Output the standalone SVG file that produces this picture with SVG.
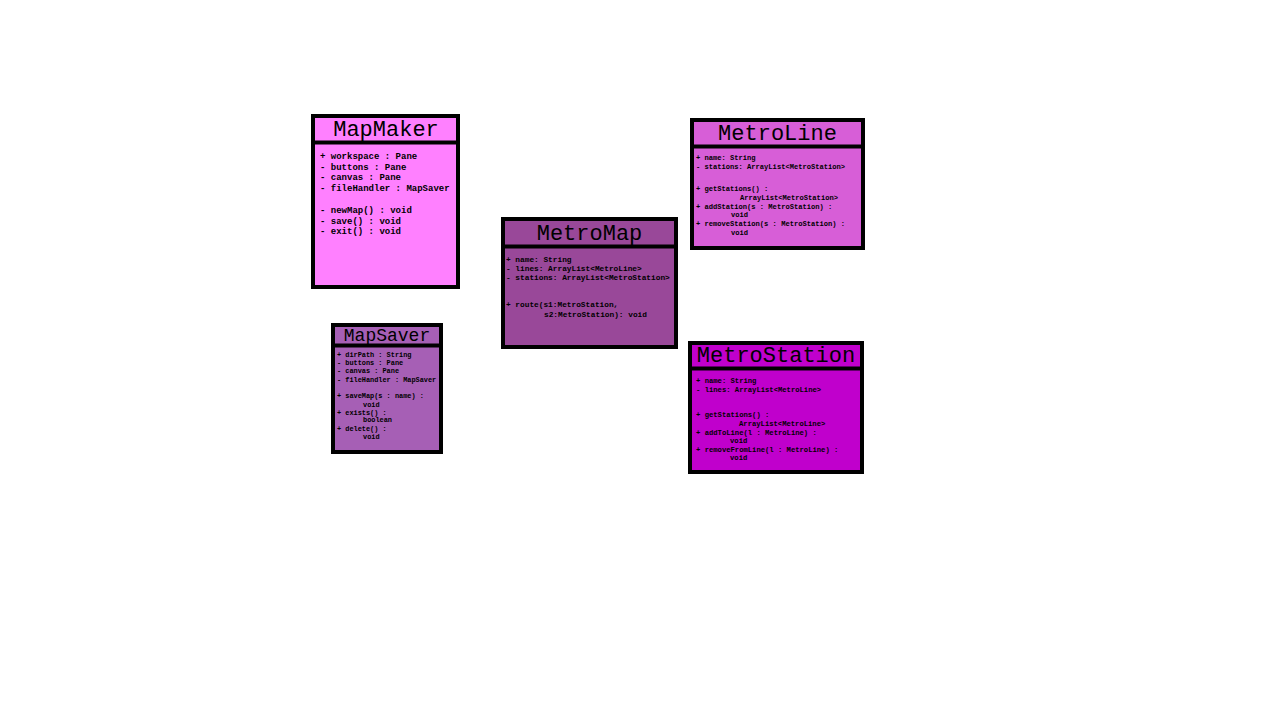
<svg xmlns="http://www.w3.org/2000/svg" width="1280" height="720" viewBox="0 0 1280 720">
<style>
.box{stroke:#000;stroke-width:4}
.sep{stroke:#000;stroke-width:4}
.hd{font-family:"Liberation Mono","Courier New",monospace;fill:#000;text-anchor:middle}
.bd{font-family:"Liberation Mono","Courier New",monospace;font-weight:bold;fill:#000}
</style>
<rect width="1280" height="720" fill="#fff"/>
<g id="MapMaker">
<rect class="box" x="313" y="116" width="145" height="171" fill="#FF80FF"/>
<line class="sep" x1="313" y1="142.5" x2="458" y2="142.5"/>
<text class="hd" x="386" y="136" font-size="22">MapMaker</text>
<g class="bd" font-size="9">
<text x="320" y="159">+ workspace : Pane</text>
<text x="320" y="169.7">- buttons : Pane</text>
<text x="320" y="180.4">- canvas : Pane</text>
<text x="320" y="191">- fileHandler : MapSaver</text>
<text x="320" y="213">- newMap() : void</text>
<text x="320" y="223.7">- save() : void</text>
<text x="320" y="234.4">- exit() : void</text>
</g>
</g>
<g id="MapSaver">
<rect class="box" x="333" y="325" width="108" height="127" fill="#A65FB5"/>
<line class="sep" x1="333" y1="345.5" x2="441" y2="345.5"/>
<text class="hd" x="387" y="341" font-size="18">MapSaver</text>
<g class="bd" font-size="6.9">
<text x="337" y="356.6">+ dirPath : String</text>
<text x="337" y="365">- buttons : Pane</text>
<text x="337" y="373.3">- canvas : Pane</text>
<text x="337" y="381.6">- fileHandler : MapSaver</text>
<text x="337" y="398.3">+ saveMap(s : name) :</text>
<text x="363" y="406.6">void</text>
<text x="337" y="415">+ exists() :</text>
<text x="363" y="422.3">boolean</text>
<text x="337" y="430.6">+ delete() :</text>
<text x="363" y="439">void</text>
</g>
</g>
<g id="MetroMap">
<rect class="box" x="503" y="219" width="173" height="128" fill="#994899"/>
<line class="sep" x1="503" y1="246.5" x2="676" y2="246.5"/>
<text class="hd" x="589.5" y="240" font-size="22">MetroMap</text>
<g class="bd" font-size="7.8">
<text x="506" y="261.7">+ name: String</text>
<text x="506" y="270.7">- lines: ArrayList&lt;MetroLine&gt;</text>
<text x="506" y="280">- stations: ArrayList&lt;MetroStation&gt;</text>
<text x="506" y="307.4">+ route(s1:MetroStation,</text>
<text x="544" y="316.7">s2:MetroStation): void</text>
</g>
</g>
<g id="MetroLine">
<rect class="box" x="692" y="120" width="171" height="128" fill="#D75ED7"/>
<line class="sep" x1="692" y1="146.5" x2="863" y2="146.5"/>
<text class="hd" x="777.5" y="140" font-size="22">MetroLine</text>
<g class="bd" font-size="7.1">
<text x="696" y="160.2">+ name: String</text>
<text x="696" y="169.2">- stations: ArrayList&lt;MetroStation&gt;</text>
<text x="696" y="191.2">+ getStations() :</text>
<text x="740" y="200.2">ArrayList&lt;MetroStation&gt;</text>
<text x="696" y="208.5">+ addStation(s : MetroStation) :</text>
<text x="731" y="216.8">void</text>
<text x="696" y="226.2">+ removeStation(s : MetroStation) :</text>
<text x="731" y="234.5">void</text>
</g>
</g>
<g id="MetroStation">
<rect class="box" x="690" y="343" width="172" height="129" fill="#C000CC"/>
<line class="sep" x1="690" y1="368.5" x2="862" y2="368.5"/>
<text class="hd" x="776" y="362" font-size="22">MetroStation</text>
<g class="bd" font-size="7.2">
<text x="696" y="383.2">+ name: String</text>
<text x="696" y="391.5">- lines: ArrayList&lt;MetroLine&gt;</text>
<text x="696" y="417.2">+ getStations() :</text>
<text x="739" y="425.5">ArrayList&lt;MetroLine&gt;</text>
<text x="696" y="434.5">+ addToLine(l : MetroLine) :</text>
<text x="730" y="443.2">void</text>
<text x="696" y="451.5">+ removeFromLine(l : MetroLine) :</text>
<text x="730" y="459.8">void</text>
</g>
</g>
<g id="connectors"></g>
</svg>
